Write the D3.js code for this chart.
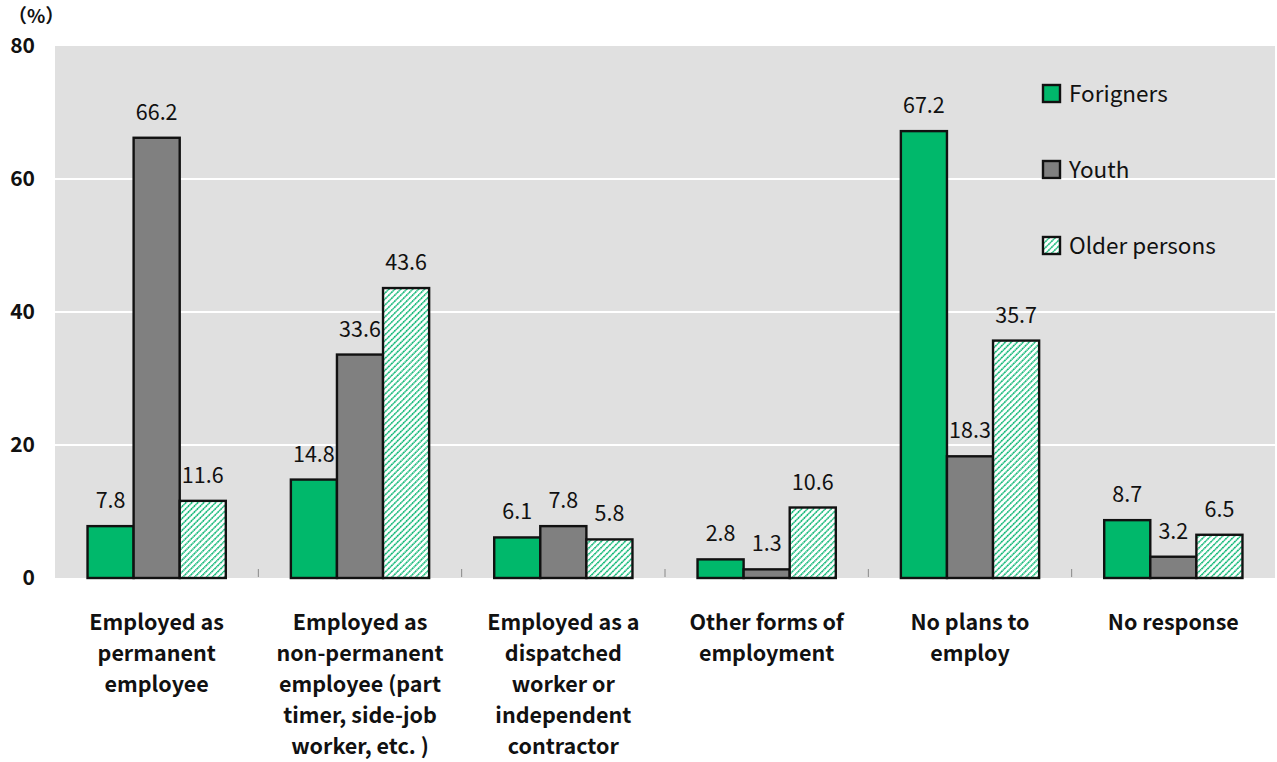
<!DOCTYPE html>
<html>
<head>
<meta charset="utf-8">
<script src="https://cdn.jsdelivr.net/npm/d3@7"></script>
<style>
  html, body { margin: 0; padding: 0; background: #ffffff; }
  svg { display: block; }
  text { font-family: "Noto Sans CJK JP", "Noto Sans", sans-serif; fill: #111; }
</style>
</head>
<body>
<svg id="chart" width="1277" height="762"></svg>
<script>
// Employment categories (multi-line labels)
const categories = [
  "Employed as permanent employee",
  "Employed as non-permanent employee (part timer, side-job worker, etc. )",
  "Employed as a dispatched worker or independent contractor",
  "Other forms of employment",
  "No plans to employ",
  "No response"
];
const categoryLines = [
  ["Employed as", "permanent", "employee"],
  ["Employed as", "non-permanent", "employee (part", "timer, side-job", "worker, etc. )"],
  ["Employed as a", "dispatched", "worker or", "independent", "contractor"],
  ["Other forms of", "employment"],
  ["No plans to", "employ"],
  ["No response"]
];
const seriesNames = ["Forigners", "Youth", "Older persons"];
const foreigners = [7.8, 14.8, 6.1, 2.8, 67.2, 8.7];
const youth      = [66.2, 33.6, 7.8, 1.3, 18.3, 3.2];
const older      = [11.6, 43.6, 5.8, 10.6, 35.7, 6.5];
const yTicks = [0, 20, 40, 60, 80];

const seriesValues = [foreigners, youth, older];

const svg = d3.select("#chart");
const plot = { left: 55, right: 1275, top: 46, bottom: 578 };

// hatch pattern for the third series
const defs = svg.append("defs");
const pat = defs.append("pattern")
  .attr("id", "hatch")
  .attr("patternUnits", "userSpaceOnUse")
  .attr("width", 4.2).attr("height", 4.2)
  .attr("patternTransform", "rotate(45)");
pat.append("rect").attr("width", 4.2).attr("height", 4.2).attr("fill", "#ffffff");
pat.append("line")
  .attr("x1", 0.8).attr("y1", 0).attr("x2", 0.8).attr("y2", 4.2)
  .attr("stroke", "#12b877").attr("stroke-width", 1.6)
  .attr("stroke-dasharray", "1.6 0.5");

const fills = ["#00b86b", "#808080", "url(#hatch)"];

const x0 = d3.scaleBand().domain(categories).range([plot.left, plot.right]);
const groupW = x0.bandwidth() * 0.68;
const x1 = d3.scaleBand().domain(seriesNames).range([0, groupW]);
const y = d3.scaleLinear().domain([0, 80]).range([plot.bottom, plot.top]);

// background
svg.append("rect")
  .attr("x", plot.left).attr("y", plot.top)
  .attr("width", plot.right - plot.left).attr("height", plot.bottom - plot.top)
  .attr("fill", "#e0e0e0");

// gridlines
svg.append("g").selectAll("line")
  .data(yTicks.filter(t => t > 0 && t < 80))
  .join("line")
  .attr("x1", plot.left).attr("x2", plot.right)
  .attr("y1", d => y(d)).attr("y2", d => y(d))
  .attr("stroke", "#ffffff").attr("stroke-width", 2);

// category separator ticks
svg.append("g").selectAll("line")
  .data(categories.slice(1))
  .join("line")
  .attr("x1", d => x0(d)).attr("x2", d => x0(d))
  .attr("y1", plot.bottom - 9).attr("y2", plot.bottom - 1)
  .attr("stroke", "#888").attr("stroke-width", 1);

// y axis
const yAxis = svg.append("g")
  .attr("transform", `translate(${plot.left},0)`)
  .call(d3.axisLeft(y).tickValues(yTicks).tickSize(0).tickPadding(20));
yAxis.select(".domain").remove();
yAxis.selectAll("text")
  .style("font-family", '"Noto Sans CJK JP", "Noto Sans", sans-serif')
  .style("font-size", "21px").style("font-weight", "bold").attr("fill", "#111");

// unit label
svg.append("text")
  .attr("x", 8).attr("y", 22.5)
  .style("font-family", '"Noto Sans CJK JP", sans-serif')
  .style("font-size", "19px").style("font-weight", "bold")
  .text("（%）");

// bars
const groups = svg.append("g").selectAll("g")
  .data(categories)
  .join("g")
  .attr("transform", d => `translate(${x0(d) + (x0.bandwidth() - groupW) / 2},0)`);

groups.selectAll("rect")
  .data((d, i) => seriesNames.map((s, j) => ({ s, j, v: seriesValues[j][i] })))
  .join("rect")
  .attr("x", d => x1(d.s))
  .attr("y", d => y(d.v))
  .attr("width", x1.bandwidth())
  .attr("height", d => y(0) - y(d.v))
  .attr("fill", d => fills[d.j])
  .attr("stroke", "#111").attr("stroke-width", 2.4);

groups.selectAll("text.val")
  .data((d, i) => seriesNames.map((s, j) => ({ s, j, v: seriesValues[j][i] })))
  .join("text")
  .attr("class", "val")
  .attr("x", d => x1(d.s) + x1.bandwidth() / 2)
  .attr("y", d => y(d.v) - 18)
  .attr("text-anchor", "middle")
  .style("font-size", "21.5px")
  .text(d => d.v.toFixed(1));

// category labels
const catLabels = svg.append("g").selectAll("text")
  .data(categories)
  .join("text")
  .attr("x", d => x0(d) + x0.bandwidth() / 2)
  .attr("y", 630)
  .attr("text-anchor", "middle")
  .style("font-size", "21.5px").style("font-weight", "bold");
catLabels.each(function (d, i) {
  const t = d3.select(this);
  categoryLines[i].forEach((line, k) => {
    t.append("tspan")
      .attr("x", x0(d) + x0.bandwidth() / 2)
      .attr("dy", k === 0 ? 0 : 31)
      .text(line);
  });
});

// legend
const legend = svg.append("g").attr("transform", "translate(1043,85)");
const items = legend.selectAll("g")
  .data(seriesNames)
  .join("g")
  .attr("transform", (d, i) => `translate(0,${i * 76})`);
items.append("rect")
  .attr("width", 17).attr("height", 17)
  .attr("fill", (d, i) => fills[i])
  .attr("stroke", "#111").attr("stroke-width", 2.4);
items.append("text")
  .attr("x", 26).attr("y", 17)
  .style("font-size", "22.5px")
  .text(d => d);
</script>
</body>
</html>
